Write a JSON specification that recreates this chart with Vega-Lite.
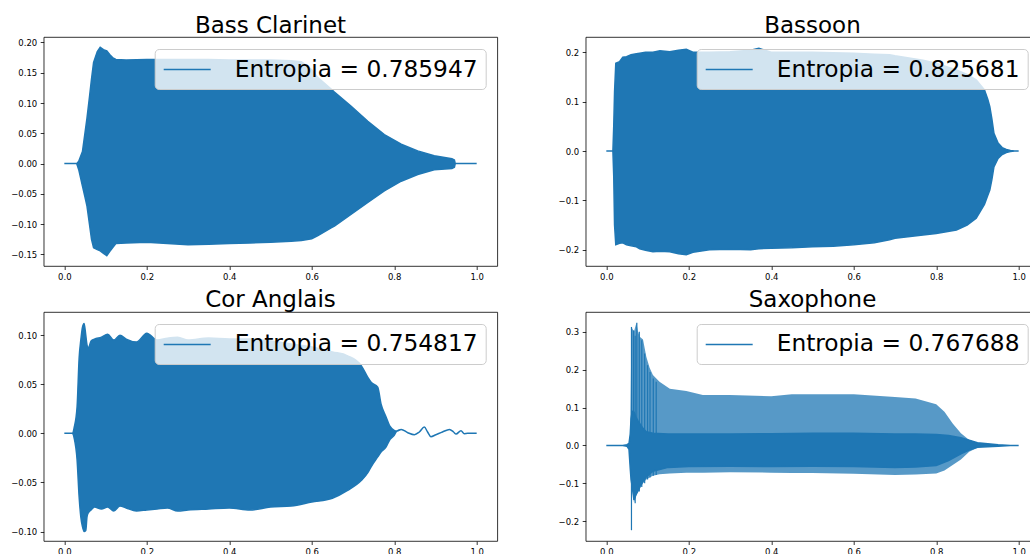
{
  "$schema": "https://vega.github.io/schema/vega-lite/v6.json",
  "padding": {"left": 9.7, "top": 14, "right": 0, "bottom": 0},
  "columns": 2,
  "spacing": {"row": 46, "column": 88},
  "bounds": "flush",
  "datasets": {
    "bc": [
      {"t": 0, "hi": 0, "lo": 0}, {"t": 0.03, "hi": 0, "lo": 0},
      {"t": 0.035, "hi": 0.004, "lo": -0.01}, {"t": 0.044, "hi": 0.02, "lo": -0.037},
      {"t": 0.05, "hi": 0.05, "lo": -0.055}, {"t": 0.055, "hi": 0.075, "lo": -0.07},
      {"t": 0.061, "hi": 0.11, "lo": -0.1}, {"t": 0.066, "hi": 0.14, "lo": -0.125},
      {"t": 0.071, "hi": 0.167, "lo": -0.139}, {"t": 0.08, "hi": 0.185, "lo": -0.142},
      {"t": 0.087, "hi": 0.192, "lo": -0.144}, {"t": 0.095, "hi": 0.188, "lo": -0.148},
      {"t": 0.103, "hi": 0.186, "lo": -0.152}, {"t": 0.11, "hi": 0.18, "lo": -0.145},
      {"t": 0.117, "hi": 0.175, "lo": -0.139}, {"t": 0.125, "hi": 0.172, "lo": -0.132},
      {"t": 0.15, "hi": 0.171, "lo": -0.131}, {"t": 0.2, "hi": 0.172, "lo": -0.13},
      {"t": 0.25, "hi": 0.172, "lo": -0.132}, {"t": 0.3, "hi": 0.172, "lo": -0.134},
      {"t": 0.35, "hi": 0.172, "lo": -0.133}, {"t": 0.4, "hi": 0.171, "lo": -0.132},
      {"t": 0.45, "hi": 0.171, "lo": -0.131}, {"t": 0.5, "hi": 0.171, "lo": -0.13},
      {"t": 0.55, "hi": 0.17, "lo": -0.128}, {"t": 0.575, "hi": 0.168, "lo": -0.127},
      {"t": 0.6, "hi": 0.155, "lo": -0.124}, {"t": 0.615, "hi": 0.142, "lo": -0.119},
      {"t": 0.647, "hi": 0.123, "lo": -0.106}, {"t": 0.655, "hi": 0.118, "lo": -0.103},
      {"t": 0.695, "hi": 0.095, "lo": -0.084}, {"t": 0.736, "hi": 0.07, "lo": -0.064},
      {"t": 0.776, "hi": 0.048, "lo": -0.045}, {"t": 0.817, "hi": 0.032, "lo": -0.029},
      {"t": 0.857, "hi": 0.021, "lo": -0.018}, {"t": 0.897, "hi": 0.013, "lo": -0.01},
      {"t": 0.94, "hi": 0.008, "lo": -0.008}, {"t": 0.946, "hi": 0.006, "lo": -0.006},
      {"t": 0.948, "hi": 0, "lo": 0}, {"t": 1.0, "hi": 0, "lo": 0}
    ],
    "bn": [
      {"t": 0, "hi": 0, "lo": 0}, {"t": 0.016, "hi": 0, "lo": 0},
      {"t": 0.018, "hi": 0.05, "lo": -0.05}, {"t": 0.02, "hi": 0.12, "lo": -0.15},
      {"t": 0.023, "hi": 0.178, "lo": -0.19}, {"t": 0.032, "hi": 0.181, "lo": -0.187},
      {"t": 0.04, "hi": 0.19, "lo": -0.186}, {"t": 0.049, "hi": 0.191, "lo": -0.19},
      {"t": 0.06, "hi": 0.195, "lo": -0.192}, {"t": 0.073, "hi": 0.197, "lo": -0.194},
      {"t": 0.081, "hi": 0.198, "lo": -0.198}, {"t": 0.095, "hi": 0.2, "lo": -0.201},
      {"t": 0.113, "hi": 0.2, "lo": -0.204}, {"t": 0.13, "hi": 0.203, "lo": -0.203},
      {"t": 0.154, "hi": 0.201, "lo": -0.204}, {"t": 0.175, "hi": 0.204, "lo": -0.208},
      {"t": 0.194, "hi": 0.206, "lo": -0.21}, {"t": 0.21, "hi": 0.2, "lo": -0.205},
      {"t": 0.25, "hi": 0.2, "lo": -0.2}, {"t": 0.3, "hi": 0.201, "lo": -0.199},
      {"t": 0.35, "hi": 0.204, "lo": -0.2}, {"t": 0.37, "hi": 0.208, "lo": -0.198},
      {"t": 0.4, "hi": 0.2, "lo": -0.197}, {"t": 0.45, "hi": 0.2, "lo": -0.196},
      {"t": 0.5, "hi": 0.2, "lo": -0.194}, {"t": 0.55, "hi": 0.199, "lo": -0.193},
      {"t": 0.6, "hi": 0.198, "lo": -0.19}, {"t": 0.65, "hi": 0.196, "lo": -0.186},
      {"t": 0.687, "hi": 0.195, "lo": -0.18}, {"t": 0.7, "hi": 0.193, "lo": -0.177},
      {"t": 0.768, "hi": 0.184, "lo": -0.17}, {"t": 0.8, "hi": 0.178, "lo": -0.167},
      {"t": 0.849, "hi": 0.164, "lo": -0.16}, {"t": 0.875, "hi": 0.155, "lo": -0.15},
      {"t": 0.897, "hi": 0.144, "lo": -0.136}, {"t": 0.917, "hi": 0.124, "lo": -0.108},
      {"t": 0.925, "hi": 0.105, "lo": -0.09}, {"t": 0.93, "hi": 0.09, "lo": -0.079},
      {"t": 0.935, "hi": 0.065, "lo": -0.058}, {"t": 0.94, "hi": 0.036, "lo": -0.032},
      {"t": 0.95, "hi": 0.016, "lo": -0.015}, {"t": 0.96, "hi": 0.007, "lo": -0.007},
      {"t": 0.97, "hi": 0.003, "lo": -0.003}, {"t": 0.98, "hi": 0.001, "lo": -0.001},
      {"t": 0.99, "hi": 0, "lo": 0}, {"t": 1.0, "hi": 0, "lo": 0}
    ],
    "ca": [
      {"t": 0, "hi": 0, "lo": 0}, {"t": 0.02, "hi": 0, "lo": 0},
      {"t": 0.024, "hi": 0.006, "lo": -0.005}, {"t": 0.031, "hi": 0.027, "lo": -0.027},
      {"t": 0.036, "hi": 0.077, "lo": -0.065}, {"t": 0.04, "hi": 0.095, "lo": -0.085},
      {"t": 0.044, "hi": 0.108, "lo": -0.095}, {"t": 0.048, "hi": 0.112, "lo": -0.1},
      {"t": 0.052, "hi": 0.1, "lo": -0.099}, {"t": 0.055, "hi": 0.09, "lo": -0.085},
      {"t": 0.058, "hi": 0.087, "lo": -0.081}, {"t": 0.065, "hi": 0.094, "lo": -0.078},
      {"t": 0.073, "hi": 0.096, "lo": -0.075}, {"t": 0.09, "hi": 0.098, "lo": -0.077},
      {"t": 0.105, "hi": 0.101, "lo": -0.075}, {"t": 0.12, "hi": 0.095, "lo": -0.079},
      {"t": 0.135, "hi": 0.1, "lo": -0.074}, {"t": 0.15, "hi": 0.096, "lo": -0.076},
      {"t": 0.175, "hi": 0.093, "lo": -0.079}, {"t": 0.2, "hi": 0.102, "lo": -0.078},
      {"t": 0.225, "hi": 0.095, "lo": -0.077}, {"t": 0.25, "hi": 0.097, "lo": -0.076},
      {"t": 0.275, "hi": 0.098, "lo": -0.079}, {"t": 0.3, "hi": 0.095, "lo": -0.078},
      {"t": 0.35, "hi": 0.097, "lo": -0.077}, {"t": 0.4, "hi": 0.096, "lo": -0.076},
      {"t": 0.45, "hi": 0.096, "lo": -0.078}, {"t": 0.5, "hi": 0.094, "lo": -0.075},
      {"t": 0.55, "hi": 0.091, "lo": -0.074}, {"t": 0.6, "hi": 0.088, "lo": -0.07},
      {"t": 0.65, "hi": 0.083, "lo": -0.066}, {"t": 0.687, "hi": 0.079, "lo": -0.058},
      {"t": 0.72, "hi": 0.069, "lo": -0.048}, {"t": 0.736, "hi": 0.057, "lo": -0.04},
      {"t": 0.744, "hi": 0.052, "lo": -0.034}, {"t": 0.76, "hi": 0.047, "lo": -0.024},
      {"t": 0.768, "hi": 0.03, "lo": -0.019}, {"t": 0.78, "hi": 0.017, "lo": -0.014},
      {"t": 0.79, "hi": 0.007, "lo": -0.006}, {"t": 0.8, "hi": 0.003, "lo": -0.002},
      {"t": 0.806, "hi": 0.0024, "lo": 0.0024}, {"t": 0.817, "hi": 0.004, "lo": 0.004},
      {"t": 0.833, "hi": 0.0007, "lo": 0.0007}, {"t": 0.849, "hi": -0.0014, "lo": -0.0014},
      {"t": 0.861, "hi": 0.0014, "lo": 0.0014}, {"t": 0.873, "hi": 0.0064, "lo": 0.0064},
      {"t": 0.881, "hi": 0.0014, "lo": 0.0014}, {"t": 0.889, "hi": -0.0034, "lo": -0.0034},
      {"t": 0.901, "hi": -0.0014, "lo": -0.0014}, {"t": 0.917, "hi": 0.0014, "lo": 0.0014},
      {"t": 0.934, "hi": 0.004, "lo": 0.004}, {"t": 0.944, "hi": 0.0014, "lo": 0.0014},
      {"t": 0.95, "hi": -0.0007, "lo": -0.0007}, {"t": 0.962, "hi": 0.0027, "lo": 0.0027},
      {"t": 0.97, "hi": -0.0003, "lo": -0.0003}, {"t": 0.978, "hi": 0, "lo": 0},
      {"t": 1.0, "hi": 0, "lo": 0}
    ],
    "sxo": [
      {"t": 0.058, "hi": 0.03, "lo": -0.06}, {"t": 0.061, "hi": 0.313, "lo": -0.1},
      {"t": 0.067, "hi": 0.3, "lo": -0.15}, {"t": 0.073, "hi": 0.324, "lo": -0.13},
      {"t": 0.077, "hi": 0.3, "lo": -0.12}, {"t": 0.081, "hi": 0.287, "lo": -0.115},
      {"t": 0.089, "hi": 0.28, "lo": -0.1}, {"t": 0.097, "hi": 0.234, "lo": -0.09},
      {"t": 0.105, "hi": 0.205, "lo": -0.085}, {"t": 0.113, "hi": 0.186, "lo": -0.08},
      {"t": 0.129, "hi": 0.168, "lo": -0.076}, {"t": 0.154, "hi": 0.15, "lo": -0.074},
      {"t": 0.194, "hi": 0.144, "lo": -0.072}, {"t": 0.234, "hi": 0.133, "lo": -0.072},
      {"t": 0.3, "hi": 0.133, "lo": -0.071}, {"t": 0.4, "hi": 0.13, "lo": -0.072},
      {"t": 0.45, "hi": 0.135, "lo": -0.073}, {"t": 0.5, "hi": 0.135, "lo": -0.073},
      {"t": 0.6, "hi": 0.135, "lo": -0.075}, {"t": 0.7, "hi": 0.128, "lo": -0.078},
      {"t": 0.75, "hi": 0.124, "lo": -0.077}, {"t": 0.8, "hi": 0.109, "lo": -0.074},
      {"t": 0.82, "hi": 0.089, "lo": -0.066}, {"t": 0.84, "hi": 0.058, "lo": -0.052},
      {"t": 0.86, "hi": 0.032, "lo": -0.037}, {"t": 0.88, "hi": 0.014, "lo": -0.017},
      {"t": 0.9, "hi": 0.007, "lo": -0.006}
    ],
    "sxs": [
      {"t": 0.061, "hi": 0.313, "lo": -0.224}, {"t": 0.066, "hi": 0.304, "lo": -0.1},
      {"t": 0.07, "hi": 0.29, "lo": -0.153}, {"t": 0.074, "hi": 0.324, "lo": -0.12},
      {"t": 0.08, "hi": 0.3, "lo": -0.122}, {"t": 0.086, "hi": 0.278, "lo": -0.11},
      {"t": 0.093, "hi": 0.243, "lo": -0.1}, {"t": 0.1, "hi": 0.212, "lo": -0.09},
      {"t": 0.106, "hi": 0.194, "lo": -0.085}, {"t": 0.114, "hi": 0.177, "lo": -0.08},
      {"t": 0.121, "hi": 0.168, "lo": -0.078}
    ],
    "sxc": [
      {"t": 0, "hi": 0, "lo": 0}, {"t": 0.04, "hi": 0, "lo": 0},
      {"t": 0.05, "hi": 0.002, "lo": -0.002}, {"t": 0.055, "hi": 0.005, "lo": -0.01},
      {"t": 0.058, "hi": 0.03, "lo": -0.06}, {"t": 0.06, "hi": 0.07, "lo": -0.09},
      {"t": 0.063, "hi": 0.09, "lo": -0.11}, {"t": 0.067, "hi": 0.088, "lo": -0.144},
      {"t": 0.072, "hi": 0.075, "lo": -0.13}, {"t": 0.077, "hi": 0.065, "lo": -0.12},
      {"t": 0.081, "hi": 0.058, "lo": -0.109}, {"t": 0.089, "hi": 0.045, "lo": -0.095},
      {"t": 0.097, "hi": 0.036, "lo": -0.083}, {"t": 0.113, "hi": 0.032, "lo": -0.068},
      {"t": 0.15, "hi": 0.03, "lo": -0.058}, {"t": 0.2, "hi": 0.03, "lo": -0.056},
      {"t": 0.3, "hi": 0.03, "lo": -0.055}, {"t": 0.4, "hi": 0.031, "lo": -0.056},
      {"t": 0.5, "hi": 0.032, "lo": -0.055}, {"t": 0.6, "hi": 0.032, "lo": -0.056},
      {"t": 0.7, "hi": 0.03, "lo": -0.058}, {"t": 0.75, "hi": 0.03, "lo": -0.057},
      {"t": 0.8, "hi": 0.029, "lo": -0.053}, {"t": 0.83, "hi": 0.026, "lo": -0.04},
      {"t": 0.86, "hi": 0.02, "lo": -0.022}, {"t": 0.88, "hi": 0.014, "lo": -0.012},
      {"t": 0.9, "hi": 0.007, "lo": -0.005}, {"t": 0.95, "hi": 0.002, "lo": -0.002},
      {"t": 0.98, "hi": 0, "lo": 0}, {"t": 1.0, "hi": 0, "lo": 0}
    ]
  },
  "concat": [
    {
      "width": 453.6, "height": 229,
      "title": "Bass Clarinet",
      "data": {"name": "bc"},
      "mark": {"type": "area", "fill": "#1f77b4", "strokeWidth": 1.5},
      "encoding": {
        "x": {"field": "t", "type": "quantitative", "title": null,
              "scale": {"domain": [-0.05, 1.05], "nice": false, "zero": false},
              "axis": {"values": [0, 0.2, 0.4, 0.6, 0.8, 1], "format": ".1f"}},
        "y": {"field": "hi", "type": "quantitative", "title": null,
              "scale": {"domain": [-0.169, 0.209], "nice": false, "zero": false},
              "axis": {"values": [-0.15, -0.1, -0.05, 0, 0.05, 0.1, 0.15, 0.2], "format": ".2f"}},
        "y2": {"field": "lo"},
        "stroke": {"datum": "Entropia = 0.785947", "scale": {"range": ["#1f77b4"]}}
      }
    },
    {
      "width": 453.6, "height": 229,
      "title": "Bassoon",
      "data": {"name": "bn"},
      "mark": {"type": "area", "fill": "#1f77b4", "strokeWidth": 1.5},
      "encoding": {
        "x": {"field": "t", "type": "quantitative", "title": null,
              "scale": {"domain": [-0.05, 1.05], "nice": false, "zero": false},
              "axis": {"values": [0, 0.2, 0.4, 0.6, 0.8, 1], "format": ".1f"}},
        "y": {"field": "hi", "type": "quantitative", "title": null,
              "scale": {"domain": [-0.233, 0.231], "nice": false, "zero": false},
              "axis": {"values": [-0.2, -0.1, 0, 0.1, 0.2], "format": ".1f"}},
        "y2": {"field": "lo"},
        "stroke": {"datum": "Entropia = 0.825681", "scale": {"range": ["#1f77b4"]}}
      }
    },
    {
      "width": 453.6, "height": 229,
      "title": "Cor Anglais",
      "data": {"name": "ca"},
      "mark": {"type": "area", "fill": "#1f77b4", "strokeWidth": 1.5, "interpolate": "monotone"},
      "encoding": {
        "x": {"field": "t", "type": "quantitative", "title": null,
              "scale": {"domain": [-0.05, 1.05], "nice": false, "zero": false},
              "axis": {"values": [0, 0.2, 0.4, 0.6, 0.8, 1], "format": ".1f"}},
        "y": {"field": "hi", "type": "quantitative", "title": null,
              "scale": {"domain": [-0.1096, 0.1236], "nice": false, "zero": false},
              "axis": {"values": [-0.1, -0.05, 0, 0.05, 0.1], "format": ".2f"}},
        "y2": {"field": "lo"},
        "stroke": {"datum": "Entropia = 0.754817", "scale": {"range": ["#1f77b4"]}}
      }
    },
    {
      "width": 453.6, "height": 229,
      "title": "Saxophone",
      "layer": [
        {
          "data": {"name": "sxo"},
          "mark": {"type": "area", "fill": "#1f77b4", "fillOpacity": 0.75},
          "encoding": {
            "x": {"field": "t", "type": "quantitative", "title": null,
                  "scale": {"domain": [-0.05, 1.05], "nice": false, "zero": false},
                  "axis": {"values": [0, 0.2, 0.4, 0.6, 0.8, 1], "format": ".1f"}},
            "y": {"field": "hi", "type": "quantitative", "title": null,
                  "scale": {"domain": [-0.2525, 0.3525], "nice": false, "zero": false},
                  "axis": {"values": [-0.2, -0.1, 0, 0.1, 0.2, 0.3], "format": ".1f"}},
            "y2": {"field": "lo"}
          }
        },
        {
          "data": {"name": "sxs"},
          "mark": {"type": "rule", "color": "#1f77b4", "strokeWidth": 1.2},
          "encoding": {
            "x": {"field": "t", "type": "quantitative"},
            "y": {"field": "hi", "type": "quantitative"},
            "y2": {"field": "lo"}
          }
        },
        {
          "data": {"name": "sxc"},
          "mark": {"type": "area", "fill": "#1f77b4", "strokeWidth": 1.5},
          "encoding": {
            "x": {"field": "t", "type": "quantitative"},
            "y": {"field": "hi", "type": "quantitative"},
            "y2": {"field": "lo"},
            "stroke": {"datum": "Entropia = 0.767688", "scale": {"range": ["#1f77b4"]}}
          }
        }
      ]
    }
  ],
  "resolve": {
    "scale": {"x": "independent", "y": "independent", "stroke": "independent"},
    "legend": {"stroke": "independent"}
  },
  "config": {
    "font": "DejaVu Sans",
    "background": "white",
    "view": {"stroke": "#000", "strokeWidth": 0.8},
    "axis": {
      "domain": false, "grid": false,
      "labelFont": "DejaVu Sans", "labelFontSize": 8.5, "labelColor": "#000",
      "tickColor": "#000", "tickSize": 3.5, "tickWidth": 0.8, "labelPadding": 3.5,
      "labelFlush": false, "labelOverlap": false
    },
    "title": {
      "font": "DejaVu Sans", "fontSize": 23, "fontWeight": "normal", "color": "#000",
      "anchor": "middle", "frame": "group", "offset": -0.5, "baseline": "alphabetic"
    },
    "legend": {
      "orient": "top-right", "offset": 12, "title": null,
      "symbolType": "M-2,0H2", "symbolSize": 552, "symbolStrokeWidth": 1.5,
      "symbolOffset": 12, "labelOffset": 35,
      "labelFont": "DejaVu Sans", "labelFontSize": 23.3, "labelColor": "#000", "labelLimit": 1000,
      "padding": 8, "fillColor": "rgba(255,255,255,0.8)", "strokeColor": "#cccccc",
      "cornerRadius": 4
    }
  }
}
